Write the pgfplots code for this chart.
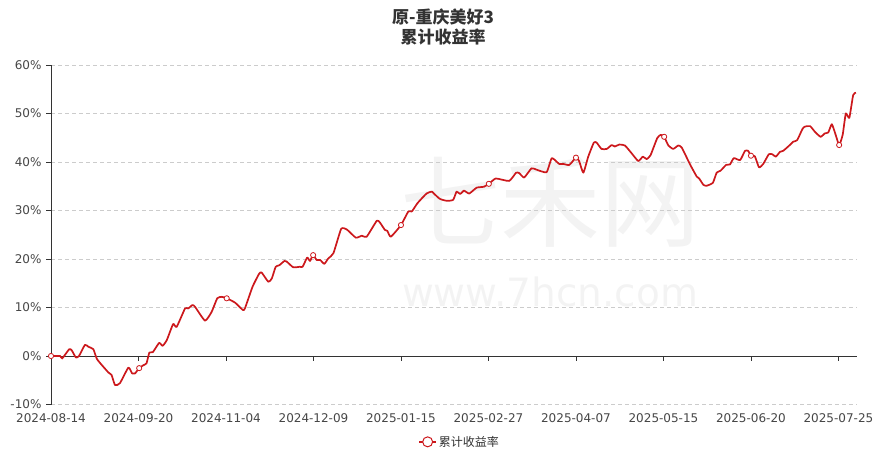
\documentclass[border=0pt]{standalone}
\usepackage{pgfplots}
\pgfplotsset{compat=1.18}
\usepackage{fontspec}
\setmainfont{DejaVu Sans}
\newfontfamily\cjk{Noto Sans CJK SC}
\definecolor{linered}{RGB}{204,24,28}
\definecolor{axisgray}{RGB}{51,51,51}
\definecolor{labgray}{RGB}{70,70,70}
\definecolor{gridgray}{RGB}{204,204,204}
\definecolor{wm}{RGB}{243,243,243}
\begin{document}
\begin{tikzpicture}[x=1pt,y=1pt]
\path[use as bounding box] (0,0) rectangle (885,459);
% watermark
\node[text=wm, font=\cjk\fontsize{100}{100}\selectfont] at (550,257) {七禾网};
\node[text=wm, font=\fontsize{39}{39}\selectfont] at (550,167) {www.7hcn.com};
% title
\node[align=center, text=axisgray, font=\cjk\bfseries\fontsize{17}{20}\selectfont] at (443,432) {原-重庆美好3\\累计收益率};
\begin{axis}[
  at={(51pt,54.5pt)}, anchor=south west,
  width=806pt, height=339.5pt, scale only axis,
  xmin=0, xmax=230.3, ymin=-10, ymax=60,
  axis x line*=bottom, axis y line*=left,
  x axis line style={draw=none},
  y axis line style={draw=axisgray, line width=0.9pt},
  xtick={0,25,...,225},
  xticklabels={2024-08-14,2024-09-20,2024-11-04,2024-12-09,2025-01-15,2025-02-27,2025-04-07,2025-05-15,2025-06-20,2025-07-25},
  xtick style={draw=none},
  ytick={-10,0,...,60},
  yticklabel={\pgfmathprintnumber{\tick}\%},
  ytick style={draw=axisgray, line width=0.8pt},
  tick align=outside, major tick length=5pt,
  ymajorgrids, grid style={gridgray, dash pattern=on 4pt off 3pt, line width=0.6pt},
  /pgf/number format/assume math mode=true,
  tick label style={font=\fontsize{12}{14}\selectfont, text=labgray},
  xticklabel style={yshift=-1pt},
  yticklabel style={xshift=-1pt},
  legend style={at={(0.507,-0.11)}, anchor=center, draw=none, fill=none, font=\cjk\fontsize{12}{14}\selectfont, text=axisgray},
  legend cell align=left,
  clip=false,
]
\draw[axisgray, line width=0.9pt] (axis cs:0,0) -- (axis cs:230.3,0);
\pgfplotsinvokeforeach{0,25,...,225}{\draw[axisgray, line width=0.8pt] (axis cs:#1,0) -- ([yshift=-5pt]axis cs:#1,0);}
\addplot[forget plot, color=linered, line width=1.7pt, line join=round, smooth, tension=0.3] coordinates {
(0,0) (2.6,0) (3.2,-0.5) (5.2,1.4) (5.9,1.2) (7.1,-0.3) (8.0,0) (9.7,2.3) (10.7,1.9) (12.1,1.4)
(13.2,-0.7) (16.4,-3.4) (17.3,-3.9) (18.3,-6.0) (19.7,-5.6) (22.1,-2.4) (23.2,-3.6) (24.0,-3.6) (25.2,-2.5) (26.4,-1.9)
(27.3,-1.5) (28.1,0.7) (29.1,0.8) (30.9,2.7) (31.9,2.1) (33.1,3.3) (34.9,6.6) (35.9,6.0) (38.3,9.8) (39.2,9.8)
(40.4,10.5) (41.1,10.2) (44.0,7.3) (45.9,9.1) (47.5,11.9) (48.8,12.2) (50.2,11.9) (52.6,11.0) (54.8,9.5) (55.4,9.8)
(57.6,14.3) (59.5,17.0) (60.2,17.2) (62.1,15.3) (63.1,16.0) (64.2,18.4) (65.2,18.7) (66.7,19.6) (67.3,19.5) (69.2,18.3)
(71.1,18.4) (71.9,18.4) (73.2,20.3) (74.0,19.6) (74.9,20.8) (75.9,19.8) (76.9,19.8) (78.1,19.0) (79.2,20.1) (80.7,21.2)
(82.9,26.2) (84.5,26.1) (87.1,24.4) (88.8,24.8) (90.2,24.6) (93.1,27.9) (94.0,27.5) (95.4,26.0) (96.1,25.8) (97.1,24.6)
(100.0,27.0) (102.1,29.8) (103.1,29.8) (104.7,31.5) (107.3,33.5) (108.8,33.9) (109.4,33.5) (111.1,32.4) (113.1,32.0) (114.9,32.2)
(115.9,33.9) (116.9,33.4) (118.0,34.1) (119.5,33.5) (121.6,34.7) (123.7,34.9) (125.1,35.5) (127.1,36.6) (130.9,36.1) (132.9,37.8)
(133.8,37.7) (135.2,36.8) (137.3,38.7) (138.8,38.4) (141.6,37.9) (143.1,40.8) (145.2,39.6) (146.4,39.6) (148.1,39.4) (150.0,40.9)
(150.9,40.2) (152.1,37.8) (153.5,41.1) (155.1,44.0) (155.9,44.0) (157.3,42.7) (158.8,42.7) (160.2,43.5) (161.1,43.2) (162.4,43.6)
(164.0,43.4) (165.9,41.8) (167.8,40.2) (169.1,41.1) (170.2,40.6) (171.3,41.4) (173.2,44.9) (174.2,45.6) (175.2,45.2) (176.4,43.4)
(177.8,42.7) (179.2,43.4) (180.2,43.0) (182.6,39.5) (184.5,37.0) (185.2,36.6) (186.4,35.3) (187.3,35.1) (189.1,35.7) (190.2,37.8)
(191.3,38.2) (192.9,39.4) (194.0,39.5) (195.1,40.8) (196.9,40.4) (198.3,42.3) (199.2,42.3) (200.0,41.3) (201.1,41.2) (202.3,38.9)
(203.5,39.6) (205.1,41.6) (206.1,41.6) (207.1,41.1) (208.3,42.1) (209.2,42.3) (211.1,43.5) (212.1,44.2) (213.2,44.5) (214.7,46.8)
(215.4,47.3) (216.9,47.4) (218.3,46.2) (219.9,45.2) (221.1,45.9) (222.1,46.1) (223.1,47.8) (224.2,45.6) (225.2,43.5) (226.2,45.6)
(227.1,50.0) (228.1,49.1) (229.2,53.8) (230.0,54.3)
};
\addplot[forget plot, only marks, mark=*, mark size=2.6pt, mark options={fill=white, draw=linered, line width=0.8pt}] coordinates {
(0,0) (25.2,-2.5) (50.2,11.9) (74.9,20.8) (100.0,27.0) (125.1,35.5) (150.0,40.9) (175.2,45.2) (200.0,41.3) (225.2,43.5)
};
\addlegendimage{color=linered, line width=1.6pt, mark=*, mark size=5pt, mark options={fill=white, draw=linered, line width=1pt}}
\addlegendentry{累计收益率}
\end{axis}
\end{tikzpicture}
\end{document}
